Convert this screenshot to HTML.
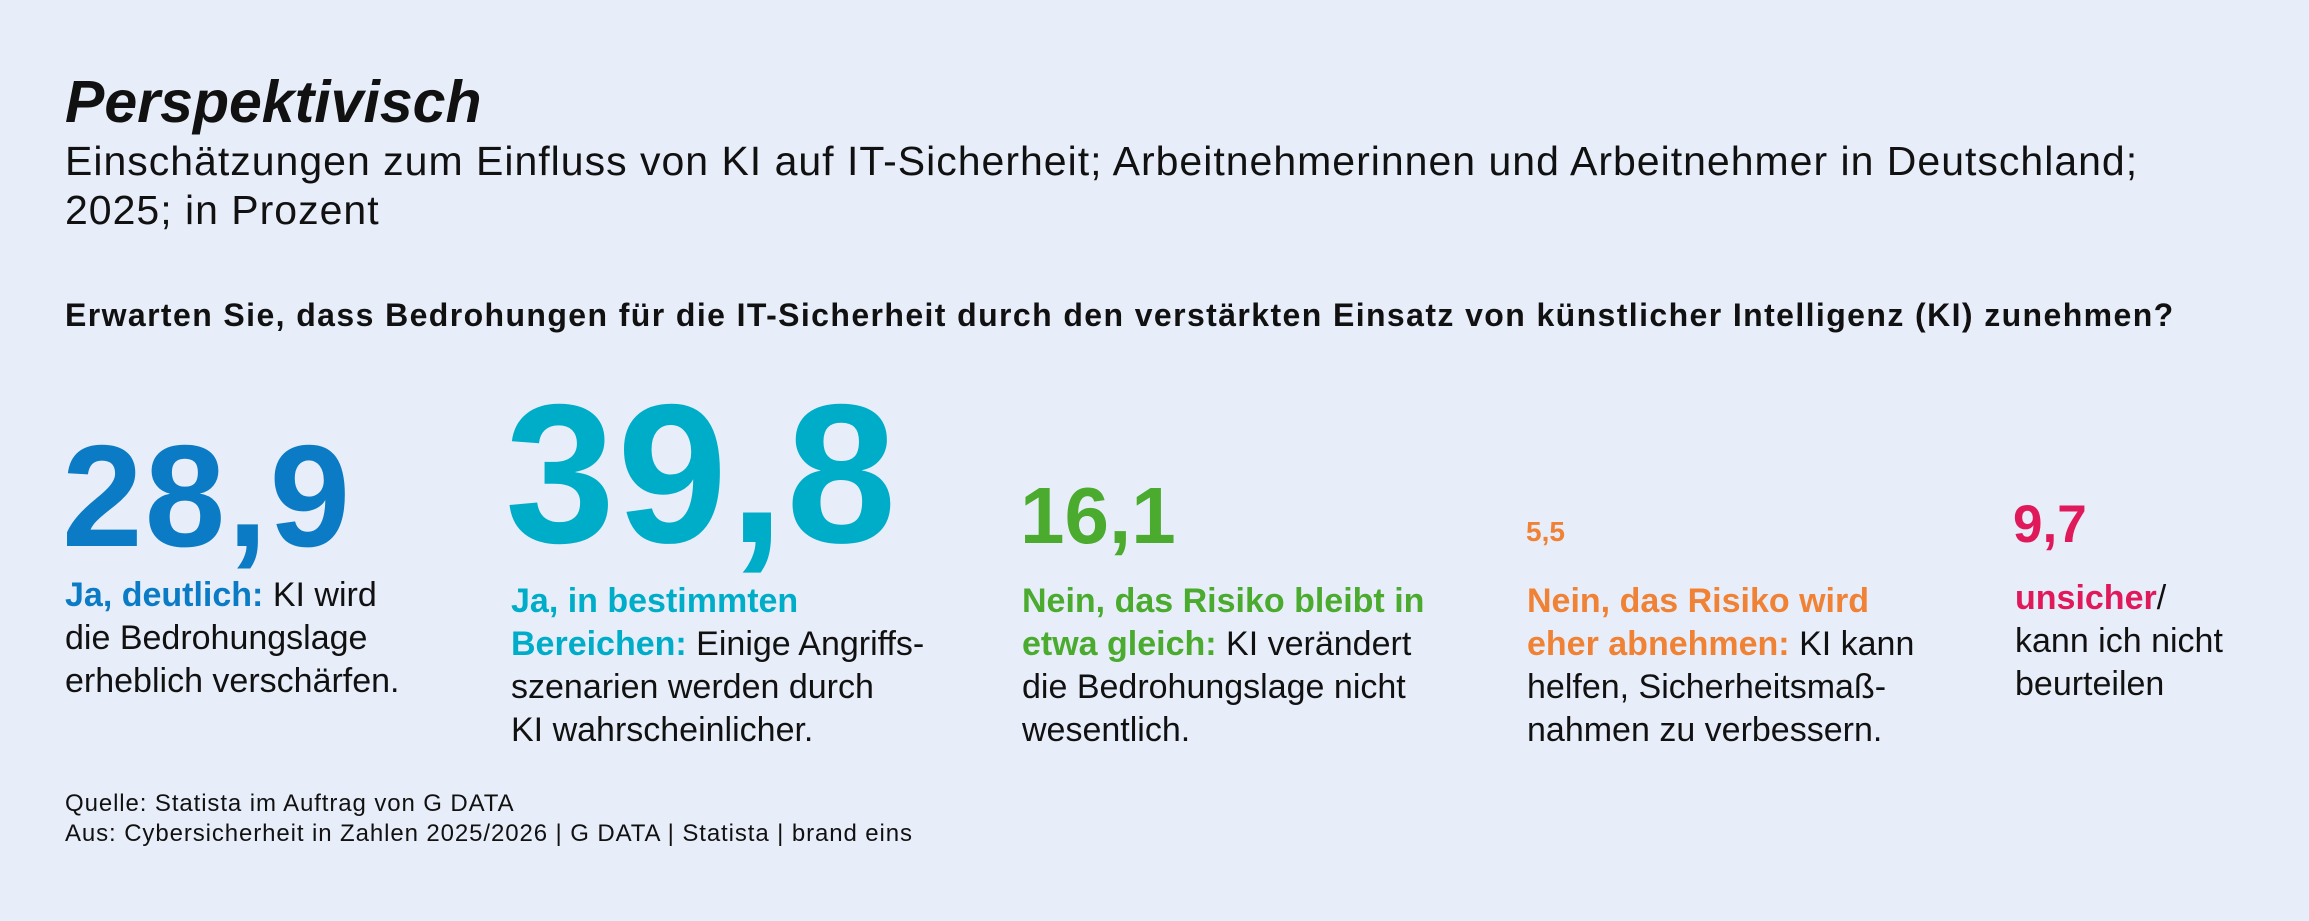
<!DOCTYPE html>
<html><head><meta charset="utf-8"><style>
body{margin:0;width:2309px;height:921px;background:#e8eef9;font-family:"Liberation Sans",sans-serif;color:#111;position:relative;overflow:hidden}
div{position:absolute;white-space:nowrap}
.n{font-weight:bold;line-height:1;letter-spacing:0px}
.d{font-size:34px;line-height:43px;letter-spacing:0px}
.b{font-weight:bold}
</style></head><body>
<div style="left:65px;top:73px;font-size:59px;font-weight:bold;font-style:italic;line-height:1">Perspektivisch</div>
<div style="left:65px;top:137px;font-size:41px;line-height:49px;letter-spacing:1px">Einschätzungen zum Einfluss von KI auf IT-Sicherheit; Arbeitnehmerinnen und Arbeitnehmer in Deutschland;<br>2025; in Prozent</div>
<div style="left:65px;top:295px;font-size:32px;line-height:40px;font-weight:bold;letter-spacing:1.4px">Erwarten Sie, dass Bedrohungen für die IT-Sicherheit durch den verstärkten Einsatz von künstlicher Intelligenz (KI) zunehmen?</div>

<div class="n" style="left:62px;top:424px;font-size:145px;color:#0a7bc4;letter-spacing:2px">28,9</div>
<div class="n" style="left:505px;top:375px;font-size:198px;color:#00adc9;letter-spacing:2px">39,8</div>
<div class="n" style="left:1020px;top:476px;font-size:80px;color:#4aab2f">16,1</div>
<div class="n" style="left:1526px;top:518px;font-size:28px;color:#f08236">5,5</div>
<div class="n" style="left:2013px;top:498px;font-size:53px;color:#e0195b">9,7</div>

<div class="d" style="left:65px;top:574px"><span class="b" style="color:#0a7bc4">Ja, deutlich:</span> KI wird<br>die Bedrohungslage<br>erheblich verschärfen.</div>
<div class="d" style="left:511px;top:580px"><span class="b" style="color:#00adc9">Ja, in bestimmten<br>Bereichen:</span> Einige Angriffs-<br>szenarien werden durch<br>KI wahrscheinlicher.</div>
<div class="d" style="left:1022px;top:580px"><span class="b" style="color:#4aab2f">Nein, das Risiko bleibt in<br>etwa gleich:</span> KI verändert<br>die Bedrohungslage nicht<br>wesentlich.</div>
<div class="d" style="left:1527px;top:580px"><span class="b" style="color:#f08236">Nein, das Risiko wird<br>eher abnehmen:</span> KI kann<br>helfen, Sicherheitsmaß-<br>nahmen zu verbessern.</div>
<div class="d" style="left:2015px;top:577px"><span class="b" style="color:#e0195b">unsicher</span>/<br>kann ich nicht<br>beurteilen</div>

<div style="left:65px;top:789px;font-size:24px;line-height:30px;letter-spacing:0.9px">Quelle: Statista im Auftrag von G DATA<br>Aus: Cybersicherheit in Zahlen 2025/2026 | G DATA | Statista | brand eins</div>
</body></html>
